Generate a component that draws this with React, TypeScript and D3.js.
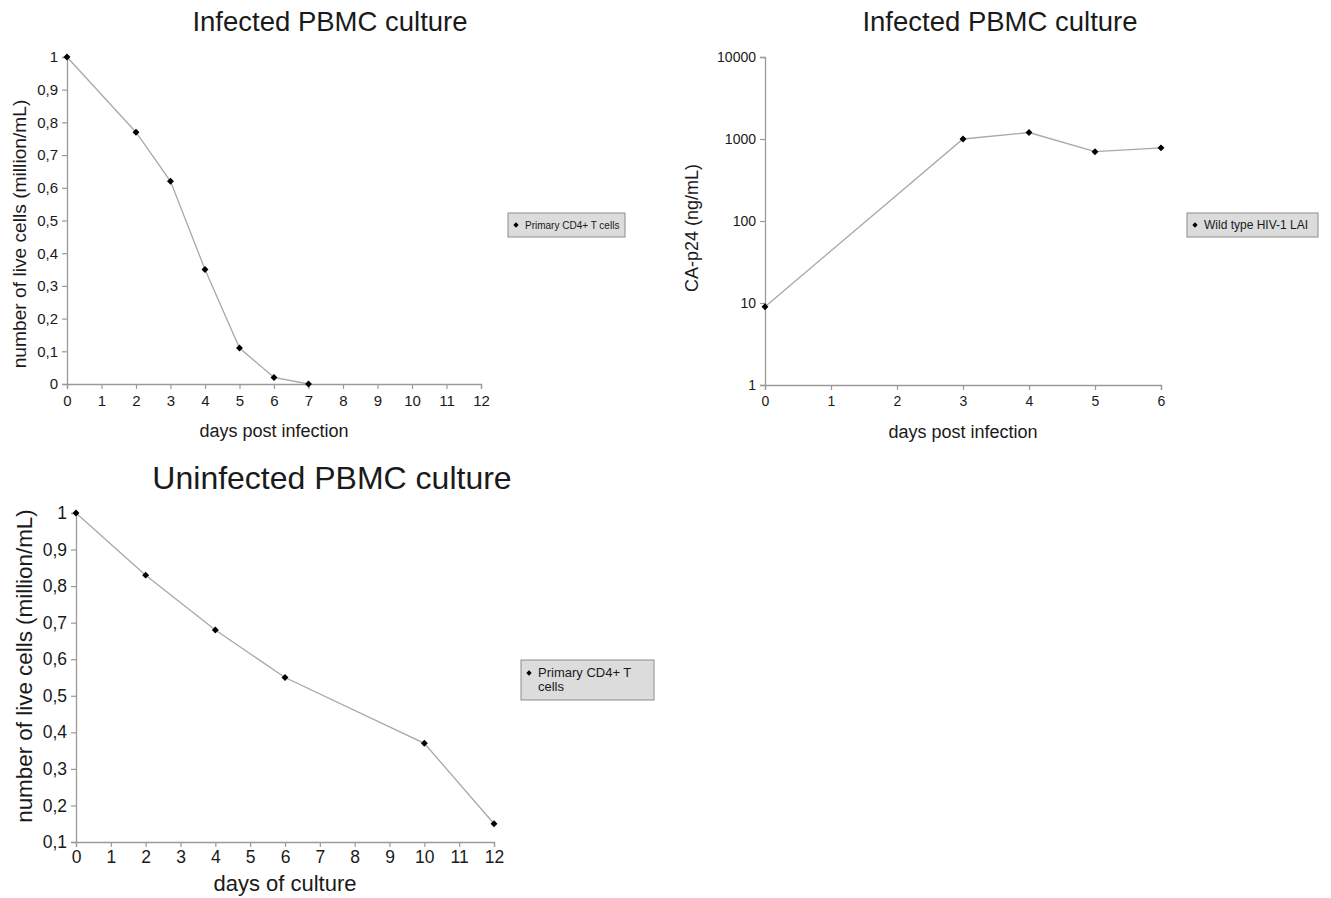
import React, { useEffect, useRef } from "react";
import * as d3 from "d3";

// infected culture, live cells
const infDays = [0, 2, 3, 4, 5, 6, 7];
const infCells = [1, 0.77, 0.62, 0.35, 0.11, 0.02, 0];
const infXTicks = [0, 1, 2, 3, 4, 5, 6, 7, 8, 9, 10, 11, 12];
const infYTicks = [0, 0.1, 0.2, 0.3, 0.4, 0.5, 0.6, 0.7, 0.8, 0.9, 1];

// CA-p24
const p24Days = [0, 3, 4, 5, 6];
const p24Values = [9, 1000, 1200, 700, 780];
const p24XTicks = [0, 1, 2, 3, 4, 5, 6];
const p24YTicks = [1, 10, 100, 1000, 10000];

// uninfected culture
const uninfDays = [0, 2, 4, 6, 10, 12];
const uninfCells = [1, 0.83, 0.68, 0.55, 0.37, 0.15];
const uninfXTicks = [0, 1, 2, 3, 4, 5, 6, 7, 8, 9, 10, 11, 12];
const uninfYTicks = [0.1, 0.2, 0.3, 0.4, 0.5, 0.6, 0.7, 0.8, 0.9, 1];

const FONT = "'Liberation Sans', Arial, sans-serif";
const TEXT = "#1a1a1a";
const AXIS = "#9a9a9a";

const fmtComma = (d: number) => String(d).replace(".", ",");

function drawPanel(svg: any, o: any) {
  const g = svg.append("g");
  const x = d3.scaleLinear().domain(o.xDomain).range([o.left, o.right]);
  const y = (o.log ? d3.scaleLog() : d3.scaleLinear()).domain(o.yDomain).range([o.bottom, o.top]);

  const xAxis = g.append("g")
    .attr("transform", `translate(0,${o.bottom})`)
    .call(d3.axisBottom(x).tickValues(o.xTicks).tickSize(5).tickPadding(o.xPad).tickFormat((d: any) => String(d)));
  const yAxis = g.append("g")
    .attr("transform", `translate(${o.left},0)`)
    .call(d3.axisLeft(y).tickValues(o.yTicks).tickSize(5).tickPadding(4).tickFormat(o.yFmt));
  [xAxis, yAxis].forEach(a => {
    a.select(".domain").attr("stroke", AXIS).attr("stroke-width", 1.3);
    a.selectAll(".tick line").attr("stroke", AXIS).attr("stroke-width", 1.2);
    a.selectAll(".tick text").attr("fill", TEXT).attr("font-family", FONT).attr("font-size", o.tickSize);
  });

  const pts = o.xs.map((d: number, i: number) => [d, o.ys[i]]);
  const line = d3.line().x((d: any) => x(d[0])).y((d: any) => y(d[1]));
  g.append("path").datum(pts).attr("d", line).attr("fill", "none").attr("stroke", "#a8a8a8").attr("stroke-width", 1.3);
  const sym = d3.symbol().type(d3.symbolSquare).size(24);
  g.selectAll(".pt").data(pts).join("path")
    .attr("d", sym)
    .attr("transform", (d: any) => `translate(${x(d[0])},${y(d[1])}) rotate(45)`)
    .attr("fill", "#000");

  g.append("text").attr("x", o.titleX).attr("y", o.titleY).attr("text-anchor", "middle")
    .attr("font-family", FONT).attr("font-size", o.titleSize).attr("fill", TEXT).text(o.title);
  g.append("text").attr("x", (o.left + o.right) / 2).attr("y", o.xLabelY).attr("text-anchor", "middle")
    .attr("font-family", FONT).attr("font-size", o.labelSize).attr("fill", TEXT).text(o.xLabel);
  g.append("text").attr("transform", `translate(${o.yLabelX},${o.yLabelY}) rotate(-90)`).attr("text-anchor", "middle")
    .attr("font-family", FONT).attr("font-size", o.yLabelSize).attr("fill", TEXT).text(o.yLabel);

  // legend
  const lg = g.append("g").attr("transform", `translate(${o.legX},${o.legY})`);
  lg.append("rect").attr("width", o.legW).attr("height", o.legH)
    .attr("fill", "#dcdcdc").attr("stroke", "#8c8c8c").attr("stroke-width", 1);
  lg.append("path").attr("d", d3.symbol().type(d3.symbolSquare).size(14)())
    .attr("transform", `translate(8,${o.legLines.length > 1 ? 13 : o.legH / 2}) rotate(45)`).attr("fill", "#000");
  const t = lg.append("text").attr("font-family", FONT).attr("font-size", o.legFont).attr("fill", TEXT);
  o.legLines.forEach((s: string, i: number) => {
    t.append("tspan").attr("x", 17).attr("y", (o.legLines.length > 1 ? 17 : o.legH / 2 + 4) + i * o.legFont * 1.1).text(s);
  });
}

export default function App() {
  const ref = useRef<SVGSVGElement>(null);
  useEffect(() => {
    const svg = d3.select(ref.current);
    svg.selectAll("*").remove();

    drawPanel(svg, {
      xs: infDays, ys: infCells, xDomain: [0, 12], yDomain: [0, 1], xTicks: infXTicks, yTicks: infYTicks,
      yFmt: fmtComma, left: 67, right: 481, top: 57, bottom: 384, tickSize: 15, xPad: 6,
      title: "Infected PBMC culture", titleX: 330, titleY: 31, titleSize: 27.5,
      xLabel: "days post infection", xLabelY: 437, labelSize: 18,
      yLabel: "number of live cells (million/mL)", yLabelX: 26, yLabelY: 234, yLabelSize: 19.2,
      legX: 508, legY: 213, legW: 117, legH: 24, legLines: ["Primary CD4+ T cells"], legFont: 10,
    });

    drawPanel(svg, {
      xs: p24Days, ys: p24Values, log: true, xDomain: [0, 6], yDomain: [1, 10000], xTicks: p24XTicks, yTicks: p24YTicks,
      yFmt: (d: number) => String(d), left: 765, right: 1161, top: 57, bottom: 385, tickSize: 14, xPad: 6,
      title: "Infected PBMC culture", titleX: 1000, titleY: 31, titleSize: 27.5,
      xLabel: "days post infection", xLabelY: 438, labelSize: 18,
      yLabel: "CA-p24 (ng/mL)", yLabelX: 698, yLabelY: 228, yLabelSize: 18,
      legX: 1187, legY: 213, legW: 131, legH: 24, legLines: ["Wild type HIV-1 LAI"], legFont: 12,
    });

    drawPanel(svg, {
      xs: uninfDays, ys: uninfCells, xDomain: [0, 12], yDomain: [0.1, 1], xTicks: uninfXTicks, yTicks: uninfYTicks,
      yFmt: fmtComma, left: 76, right: 494, top: 513, bottom: 842, tickSize: 17.5, xPad: 4,
      title: "Uninfected PBMC culture", titleX: 332, titleY: 489, titleSize: 32,
      xLabel: "days of culture", xLabelY: 891, labelSize: 22,
      yLabel: "number of live cells (million/mL)", yLabelX: 32, yLabelY: 666, yLabelSize: 22.4,
      legX: 521, legY: 660, legW: 133, legH: 40, legLines: ["Primary CD4+ T", "cells"], legFont: 13,
    });
  }, []);
  return (
    <svg ref={ref} width={1331} height={898}
      style={{ position: "absolute", left: 0, top: 0, background: "#fff" }} />
  );
}
